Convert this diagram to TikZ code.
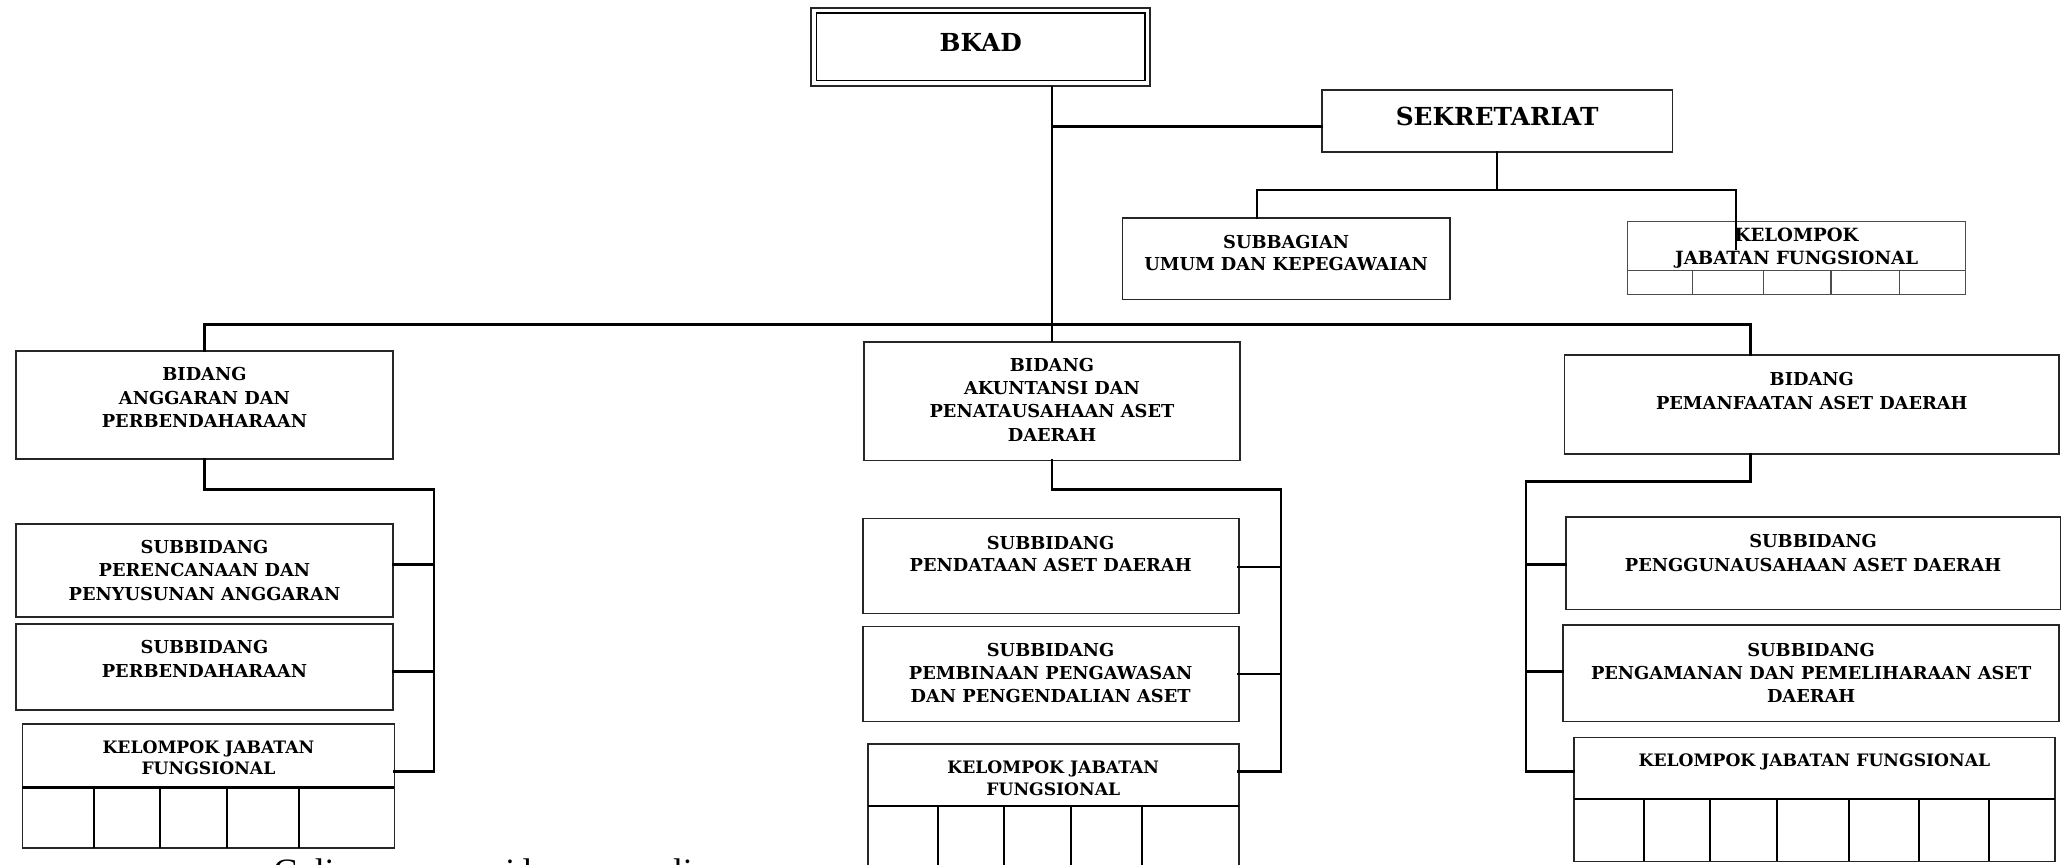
\documentclass[tikz,border=0pt]{standalone}
\usepackage{fontspec}
\setmainfont{DejaVu Serif}
\newfontfamily\capfont{Liberation Serif}
\begin{document}
\begin{tikzpicture}[x=1pt,y=-1pt,
  box/.style={draw=black!85, line width=1.3pt, inner sep=0pt, outer sep=0pt, anchor=north west},
  txt/.style={font=\fontsize{13.5}{18}\selectfont\bfseries, align=center, inner sep=0pt, anchor=north},
  smalltxt/.style={txt, font=\fontsize{13}{16}\selectfont\bfseries},
  bigtxt/.style={txt, font=\fontsize{18.8}{21}\selectfont\bfseries},
  conn/.style={line width=1.8pt, line cap=rect},
  thinconn/.style={line width=1pt},
  grid/.style={line width=1.6pt},
  capt/.style={font=\capfont\fontsize{27}{30}\selectfont, inner sep=0pt, anchor=base west}]
\useasboundingbox (0,0) rectangle (1568.5,655);

% ---- top level
\node[box, line width=1.8pt, minimum width=257pt, minimum height=59pt] (bkad) at (615,6) {};
\node[draw, line width=1.2pt, inner sep=0pt, minimum width=249pt, minimum height=51pt] (bkadin) at (bkad.center) {};
\node[bigtxt] (t-bkad) at (743.5,25.1) {BKAD};

\node[box, minimum width=266pt, minimum height=47pt] (sek) at (1002,68) {};
\node[bigtxt] (t-sek) at (1135,81.1) {SEKRETARIAT};

\node[box, minimum width=248pt, minimum height=62pt] (sub) at (851,165) {};
\node[txt, font=\fontsize{13.5}{17}\selectfont\bfseries] (t-sub) at (975,178.1) {SUBBAGIAN\\UMUM DAN KEPEGAWAIAN};

\node[box, draw=black!70, line width=0.9pt, minimum width=256pt, minimum height=55pt] (kjf) at (1234,168) {};
\node[txt, font=\fontsize{13.8}{17}\selectfont\bfseries] (t-kjf) at (1362,173) {KELOMPOK\\JABATAN FUNGSIONAL};
\draw[black!70, line width=0.9pt] (kjf.west |- 0,205) -- (kjf.east |- 0,205);
\foreach \x in {1283,1337,1388,1440} \draw[black!70, line width=0.9pt] (\x,205) -- (\x,223);

% ---- bidang
\node[box, minimum width=286pt, minimum height=82pt] (ang) at (12,266) {};
\node[txt] (t-ang) at (155,278.1) {BIDANG\\ANGGARAN DAN\\PERBENDAHARAAN};

\node[box, minimum width=285pt, minimum height=90pt] (akt) at (655,259) {};
\node[txt, font=\fontsize{13.5}{17.7}\selectfont\bfseries] (t-akt) at (797.5,271.1) {BIDANG\\AKUNTANSI DAN\\PENATAUSAHAAN ASET\\DAERAH};

\node[box, minimum width=375pt, minimum height=75pt] (pem) at (1186,269) {};
\node[txt] (t-pem) at (1373.5,282.1) {BIDANG\\PEMANFAATAN ASET DAERAH};

% ---- left column
\node[box, minimum width=286pt, minimum height=71pt] (ang1) at (12,397) {};
\node[txt] (t-ang1) at (155,409.1) {SUBBIDANG\\PERENCANAAN DAN\\PENYUSUNAN ANGGARAN};
\node[box, minimum width=286pt, minimum height=65pt] (ang2) at (12,473) {};
\node[txt] (t-ang2) at (155,485.1) {SUBBIDANG\\PERBENDAHARAAN};
\node[box, minimum width=282pt, minimum height=94pt] (angk) at (17,549) {};
\node[smalltxt] (t-angk) at (158,561.3) {KELOMPOK JABATAN\\FUNGSIONAL};
\draw[grid] (angk.west |- 0,597) -- (angk.east |- 0,597);
\foreach \x in {71,121,172,227} \draw[grid] (\x,597) -- (\x,643);

% ---- middle column
\node[box, minimum width=285pt, minimum height=72pt] (akt1) at (654,393) {};
\node[txt, font=\fontsize{13.5}{17}\selectfont\bfseries] (t-akt1) at (796.5,406.1) {SUBBIDANG\\PENDATAAN ASET DAERAH};
\node[box, minimum width=285pt, minimum height=72pt] (akt2) at (654,475) {};
\node[txt, font=\fontsize{13.5}{17.5}\selectfont\bfseries] (t-akt2) at (796.5,487.1) {SUBBIDANG\\PEMBINAAN PENGAWASAN\\DAN PENGENDALIAN ASET};
\node[box, minimum width=281pt, minimum height=116pt] (aktk) at (658,564) {};
\node[smalltxt, font=\fontsize{13}{17}\selectfont\bfseries] (t-aktk) at (798.5,576.3) {KELOMPOK JABATAN\\FUNGSIONAL};
\draw[grid] (aktk.west |- 0,611) -- (aktk.east |- 0,611);
\foreach \x in {711,761,812,866} \draw[grid] (\x,611) -- (\x,680);

% ---- right column
\node[box, minimum width=375pt, minimum height=70pt] (pem1) at (1187,392) {};
\node[txt] (t-pem1) at (1374.5,405.1) {SUBBIDANG\\PENGGUNAUSAHAAN ASET DAERAH};
\node[box, minimum width=376pt, minimum height=73pt] (pem2) at (1185,474) {};
\node[txt, font=\fontsize{13.5}{17.5}\selectfont\bfseries] (t-pem2) at (1373,487.1) {SUBBIDANG\\PENGAMANAN DAN PEMELIHARAAN ASET\\DAERAH};
\node[box, minimum width=365pt, minimum height=94pt] (pemk) at (1193,559) {};
\node[smalltxt] (t-pemk) at (1375.5,571.3) {KELOMPOK JABATAN FUNGSIONAL};
\draw[grid] (pemk.west |- 0,606) -- (pemk.east |- 0,606);
\foreach \x in {1246,1296,1347,1402,1455,1508} \draw[grid] (\x,606) -- (\x,653);

% ---- connectors
\draw[thinconn] (bkad.south -| akt.north) -- (akt.north);
\coordinate (j1) at (akt.north |- 0,96);
\draw[conn] (j1) -- (j1 -| sek.west);
\draw[conn] (sek.south) -- ++(0,29) coordinate (sb);
\draw[conn] ([xshift=-22pt]sub.north) |- ([xshift=-46pt]kjf.north |- sb) -- ([xshift=-46pt,yshift=-21pt]kjf.north);
\draw[conn] (sb) -- ([xshift=-22pt]sub.north |- sb);

\coordinate (bus) at (akt.north |- 0,246);
\draw[conn] (ang.north) |- (bus) -| ([xshift=-46.5pt]pem.north);

\draw[conn] (ang.south) -- ++(0,23) -| (329,585) -- (angk.east |- 0,585);
\draw[conn] (ang1.east |- 0,428) -- (329,428);
\draw[conn] (ang2.east |- 0,509) -- (329,509);

\draw[conn] (akt.south) -- ++(0,22) -| (971,585) -- (aktk.east |- 0,585);
\draw[conn] (akt1.east |- 0,430) -- (971,430);
\draw[conn] (akt2.east |- 0,511) -- (971,511);

\draw[conn] ([xshift=-46.5pt]pem.south) -- ++(0,21) -| (1157,585) -- (pemk.west |- 0,585);
\draw[conn] (pem1.west |- 0,428) -- (1157,428);
\draw[conn] (pem2.west |- 0,509) -- (1157,509);

% ---- caption (cut off by the page edge, as in the reference)
\node[capt] (c1) at (207,669.5) {Gali};
\node[capt] (c2) at (383,669.5) {i};
\node[capt] (c3) at (396,669.5) {l};
\node[capt] (c4) at (510,669.5) {li};
\end{tikzpicture}
\end{document}
